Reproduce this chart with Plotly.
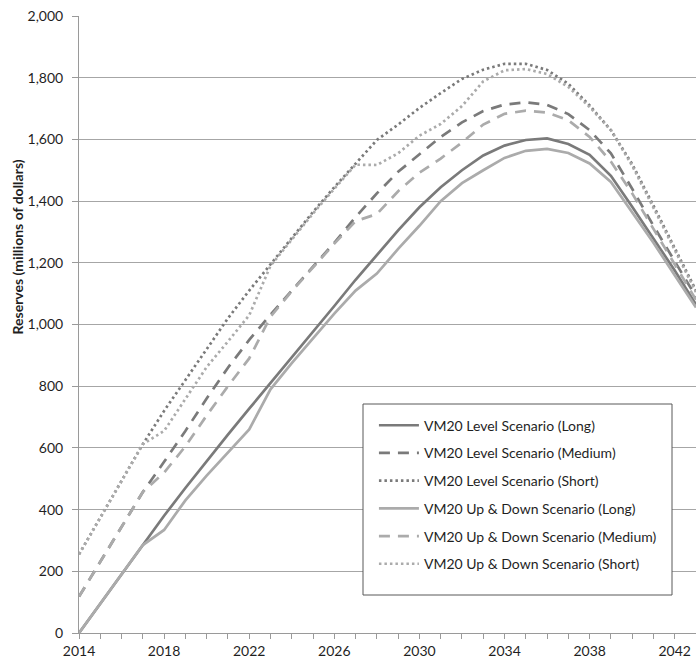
import plotly.graph_objects as go

years = list(range(2014, 2044))

level_long = [0, 95, 190, 285, 380, 470, 557, 643, 727, 810, 893, 975, 1060, 1145, 1225,
              1305, 1380, 1445, 1500, 1548, 1580, 1598, 1603, 1585, 1550, 1482, 1382, 1280, 1175, 1065]
level_medium = [118, 232, 345, 457, 555, 655, 760, 860, 950, 1032, 1110, 1188, 1265, 1348, 1425,
                1495, 1552, 1608, 1655, 1692, 1713, 1720, 1712, 1682, 1630, 1555, 1440, 1320, 1205, 1090]
level_short = [255, 374, 493, 612, 720, 820, 920, 1020, 1110, 1195, 1280, 1365, 1445, 1520, 1598,
               1648, 1702, 1750, 1796, 1826, 1845, 1845, 1825, 1780, 1710, 1630, 1520, 1385, 1245, 1110]
updown_long = [0, 95, 190, 285, 334, 430, 510, 585, 660, 790, 875, 955, 1035, 1110, 1165,
               1245, 1320, 1400, 1458, 1500, 1540, 1563, 1569, 1556, 1522, 1462, 1365, 1265, 1160, 1055]
updown_medium = [118, 232, 345, 457, 520, 605, 705, 800, 890, 1025, 1108, 1186, 1262, 1335, 1358,
                 1432, 1492, 1538, 1590, 1648, 1683, 1693, 1687, 1662, 1608, 1528, 1425, 1310, 1195, 1080]
updown_short = [255, 374, 493, 612, 655, 760, 862, 945, 1030, 1190, 1275, 1360, 1440, 1518, 1517,
                1555, 1612, 1650, 1708, 1788, 1824, 1828, 1812, 1770, 1705, 1630, 1515, 1380, 1240, 1105]

series_names = [
    "VM20 Level Scenario (Long)",
    "VM20 Level Scenario (Medium)",
    "VM20 Level Scenario (Short)",
    "VM20 Up & Down Scenario (Long)",
    "VM20 Up & Down Scenario (Medium)",
    "VM20 Up & Down Scenario (Short)",
]
series_values = [level_long, level_medium, level_short, updown_long, updown_medium, updown_short]

DARK = "#7a7a7a"
LIGHT = "#ababab"
styles = [
    (DARK, "solid"), (DARK, "11px,8px"), (DARK, "2.5px,3px"),
    (LIGHT, "solid"), (LIGHT, "11px,8px"), (LIGHT, "2.5px,3px"),
]

FONT = "Lato, 'Liberation Sans', sans-serif"
TEXT = "#1f1f1f"

fig = go.Figure()
for i, (name, vals) in enumerate(zip(series_names, series_values)):
    color, dash = styles[i]
    fig.add_trace(go.Scatter(
        x=years, y=vals, name=name, mode="lines",
        line=dict(color=color, width=2.7, dash=dash),
        legendgroup=f"g{i}",
    ))

fig.update_layout(
    width=696, height=659,
    margin=dict(l=79, r=0, t=16, b=26),
    paper_bgcolor="white", plot_bgcolor="white",
    font=dict(family=FONT, size=14, color=TEXT),
    showlegend=True,
    legend=dict(
        x=0.478, y=0.362, xanchor="left", yanchor="top",
        bgcolor="rgba(0,0,0,0)", borderwidth=0,
        font=dict(family=FONT, size=14, color=TEXT),
        tracegroupgap=6.5, itemwidth=40,
    ),
    xaxis=dict(
        range=[2014, 2043], tick0=2014, dtick=4,
        showgrid=False, zeroline=False,
        showline=True, linecolor="#9a9a9a", linewidth=1,
        ticks="outside", ticklen=5, tickcolor="#9a9a9a",
        minor=dict(dtick=1, tick0=2014, ticks="outside", ticklen=5, tickcolor="#9a9a9a", showgrid=False),
        tickfont=dict(size=14, color=TEXT),
    ),
    yaxis=dict(
        range=[0, 2000], dtick=200, tickformat=",d",
        showgrid=True, gridcolor="#a6a6a6", gridwidth=1,
        zeroline=False,
        showline=True, linecolor="#9a9a9a", linewidth=1,
        ticks="outside", ticklen=6, tickcolor="#9a9a9a",
        tickfont=dict(size=14, color=TEXT),
        ticklabelstandoff=6,
    ),
    shapes=[dict(
        type="rect", xref="paper", yref="paper",
        x0=(363 - 79) / 617, x1=(672 - 79) / 617,
        y0=(633 - 595) / 617, y1=(633 - 404) / 617,
        line=dict(color="#595959", width=1), fillcolor="white", layer="above",
    )],
    annotations=[dict(
        text="<b>Reserves (millions of dollars)</b>",
        xref="paper", yref="paper", x=(17 - 79) / 617, y=(633 - 337) / 617,
        xanchor="center", yanchor="bottom", textangle=-90, showarrow=False,
        font=dict(family=FONT, size=14, color=TEXT),
    )],
)

fig.write_html("out.html")
